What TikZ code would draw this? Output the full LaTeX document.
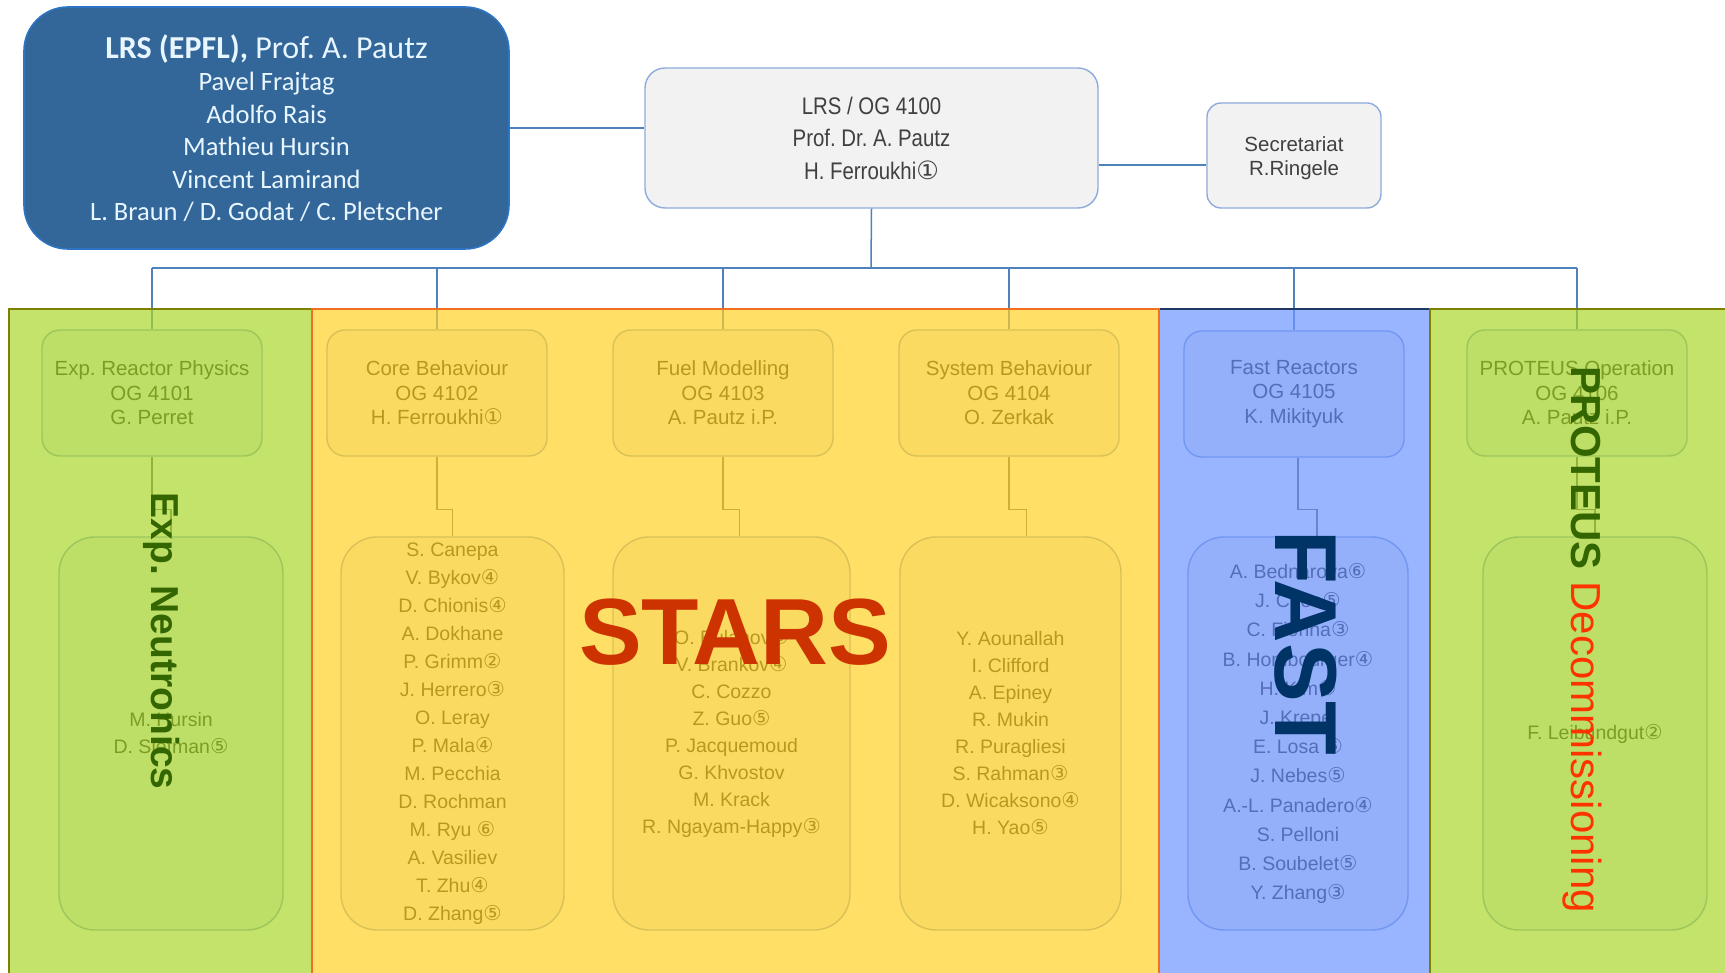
\documentclass[tikz,border=0pt]{standalone}
\usepackage{fontspec}
\setmainfont{Liberation Sans}
\newfontfamily\calfont{Carlito}
\newfontfamily\narrowfont[FakeStretch=0.85]{Liberation Sans}
\newfontfamily\circfont[Scale=1.05]{DejaVu Sans}
% circled digit 1..6
\newcommand\cnum[1]{{\circfont\char\numexpr"245F+#1\relax}}
\frenchspacing

\definecolor{leadfill}{HTML}{336699}
\definecolor{leadline}{HTML}{2E74C4}
\definecolor{leadtext}{HTML}{E8F6FF}
\definecolor{boxfill}{HTML}{F2F2F2}
\definecolor{boxline}{HTML}{8FAADC}
\definecolor{boxtext}{HTML}{404040}
\definecolor{unittext}{HTML}{141414}
\definecolor{unitline}{HTML}{7F9CCF}
\definecolor{wire}{HTML}{4F81BD}
\definecolor{subwire}{HTML}{5F5F5F}
\definecolor{greenband}{HTML}{A9D72C}
\definecolor{yellowband}{HTML}{FFD124}
\definecolor{blueband}{HTML}{6D95FF}
\definecolor{olive}{HTML}{7F8000}
\definecolor{orangeline}{HTML}{F07020}
\definecolor{navyline}{HTML}{1F3864}
\definecolor{starsred}{HTML}{CC3300}
\definecolor{fastnavy}{HTML}{003366}
\definecolor{darkgreen}{HTML}{336600}
\definecolor{decom}{HTML}{FF3300}

\tikzset{
  lead/.style={draw=leadline, line width=1.6pt, fill=leadfill, text=leadtext,
    rounded corners=44pt, minimum width=485pt, minimum height=242pt,
    align=center, inner sep=0pt, font=\calfont\fontsize{26.5}{32.5}\selectfont},
  head/.style={draw=boxline, line width=1.4pt, fill=boxfill, text=boxtext,
    rounded corners=20pt, align=center, inner sep=0pt},
  unitbox/.style={draw=unitline, line width=1.4pt, fill=boxfill, text=unittext,
    rounded corners=18pt, minimum width=220pt, minimum height=126pt,
    align=center, inner sep=0pt, font=\fontsize{20.5}{24.5}\selectfont},
  crewbox/.style={draw=unitline, line width=1.4pt, fill=boxfill, text=unittext,
    rounded corners=36pt, minimum height=393pt,
    align=center, inner sep=0pt, font=\fontsize{19.5}{27}\selectfont},
  wireline/.style={draw=wire, line width=1.5pt},
  subline/.style={draw=subwire, line width=1.4pt},
  band/.style={fill opacity=0.7, line width=1.6pt},
  biglabel/.style={inner sep=0pt},
}

\begin{document}
\begin{tikzpicture}[x=1pt,y=-1pt]
\useasboundingbox (0,0) rectangle (1725,973);

% management
\node[lead] (lead) at (266.5,128)
  {{\fontsize{32}{32.5}\selectfont\bfseries LRS (EPFL), \mdseries Prof. A. Pautz}\\Pavel Frajtag\\Adolfo Rais\\Mathieu Hursin\\Vincent Lamirand\\L. Braun / D. Godat / C. Pletscher};
\node[head, minimum width=453pt, minimum height=140pt,
      font=\narrowfont\fontsize{24}{32.5}\selectfont] (lrs) at (871.5,138)
  {LRS / OG 4100\\Prof. Dr. A. Pautz\\H. Ferroukhi\cnum1};
\node[head, rounded corners=14pt, minimum width=174pt, minimum height=105pt] (sec) at (1294,155.5) {};
\node[text=boxtext, align=center, inner sep=0pt, font=\fontsize{20.5}{24}\selectfont]
  (sectext) at ([yshift=-3pt]sec.center) {Secretariat\\R.Ringele};

\coordinate (secjoin) at ([yshift=-9.5pt]sec.west);
\draw[wireline] (lead.east) -- (lead.east -| lrs.west);
\draw[wireline] (secjoin -| lrs.east) -- (secjoin);

% groups
\node[unitbox] (gexp)  at (152,393)  {Exp. Reactor Physics\\OG 4101\\G. Perret};
\node[unitbox] (gcore) at (437,393)  {Core Behaviour\\OG 4102\\H. Ferroukhi\cnum1};
\node[unitbox] (gfuel) at (723,393)  {Fuel Modelling\\OG 4103\\A. Pautz i.P.};
\node[unitbox] (gsys)  at (1009,393) {System Behaviour\\OG 4104\\O. Zerkak};
\node[unitbox] (gfast) at (1294,394) {Fast Reactors\\OG 4105\\K. Mikityuk};
\node[unitbox] (gprot) at (1577,393) {PROTEUS Operation\\OG 4106\\A. Pautz i.P.};

% staff
\node[crewbox, minimum width=224pt] (mexp) at (171,733.5)
  {M. Hursin\\D. Siefman\cnum5};
\node[crewbox, minimum width=223pt, font=\fontsize{19.5}{28}\selectfont] (mcore) at (452.5,733.5)
  {S. Canepa\\V. Bykov\cnum4\\D. Chionis\cnum4\\A. Dokhane\\P. Grimm\cnum2\\J. Herrero\cnum3\\O. Leray\\P. Mala\cnum4\\M. Pecchia\\D. Rochman\\M. Ryu \cnum6\\A. Vasiliev\\T. Zhu\cnum4\\D. Zhang\cnum5};
\node[crewbox, minimum width=237pt] (mfuel) at (731.5,733.5)
  {O. Bulanov\cnum5\\V. Brankov\cnum4\\C. Cozzo\\Z. Guo\cnum5\\P. Jacquemoud\\G. Khvostov\\M. Krack\\R. Ngayam-Happy\cnum3};
\node[crewbox, minimum width=221pt] (msys) at (1010.5,733.5)
  {Y. Aounallah\\I. Clifford\\A. Epiney\\R. Mukin\\R. Puragliesi\\S. Rahman\cnum3\\D. Wicaksono\cnum4\\H. Yao\cnum5};
\node[crewbox, minimum width=220pt, font=\fontsize{19.5}{29.2}\selectfont] (mfast) at (1298,733.5)
  {A. Bednarova\cnum6\\J. Choe\cnum5\\C. Fiorina\cnum3\\B. Hombourger\cnum4\\H. Kim\cnum5\\J. Krepel\\E. Losa \cnum6\\J. Nebes\cnum5\\A.-L. Panadero\cnum4\\S. Pelloni\\B. Soubelet\cnum5\\Y. Zhang\cnum3};
\node[crewbox, minimum width=224pt] (mprot) at (1595,733.5)
  {F. Leibundgut\cnum2};

% tree lines
\coordinate (bus) at (871,268);
\draw[wireline] (lrs.south) -- (bus);
\draw[wireline] (gexp.north |- bus) -- (gprot.north |- bus);
\foreach \g in {gexp,gcore,gfuel,gsys,gfast,gprot}
  \draw[wireline] (\g.north |- bus) -- (\g.north);

\draw[subline] (gexp.south)  -- ++(0,53) -| (mexp.north);
\draw[subline] (gcore.south) -- ++(0,53) -| (mcore.north);
\draw[subline] (gfuel.south) -- ++(0,53) -| ([xshift=8pt]mfuel.north);
\draw[subline] (gsys.south)  -- ++(0,53) -| ([xshift=16pt]msys.north);
\draw[subline] ([xshift=4pt]gfast.south) -- ++(0,52) -| ([xshift=19pt]mfast.north);
\draw[subline] (gprot.south) -- ++(0,53) -| (mprot.north);

% coloured sections laid over the groups
\path[band, fill=greenband, draw=olive]       (9,309)    rectangle (312,975);
\path[band, fill=blueband, draw=navyline]     (1159,309) rectangle (1430,975);
\path[band, fill=yellowband, draw=orangeline] (312,309)  rectangle (1159,975);
\path[band, fill=greenband, draw=olive]       (1430,309) rectangle (1728,975);

% section titles
\node[biglabel, text=starsred, font=\fontsize{94}{94}\selectfont\bfseries] (stars) at (735,632) {STARS};
\node[biglabel, rotate=-90, text=fastnavy, font=\fontsize{88}{88}\selectfont\bfseries] (fast) at (1306,643) {FAST};
\node[biglabel, rotate=-90, text=darkgreen, font=\fontsize{39}{39}\selectfont\bfseries] (expn) at (162,641) {Exp. Neutronics};
\node[biglabel, rotate=-90, font=\fontsize{42}{42}\selectfont] (decom) at (1582,640)
  {\textcolor{darkgreen}{\bfseries PROTEUS} \textcolor{decom}{Decommissioning}};
\end{tikzpicture}
\end{document}
